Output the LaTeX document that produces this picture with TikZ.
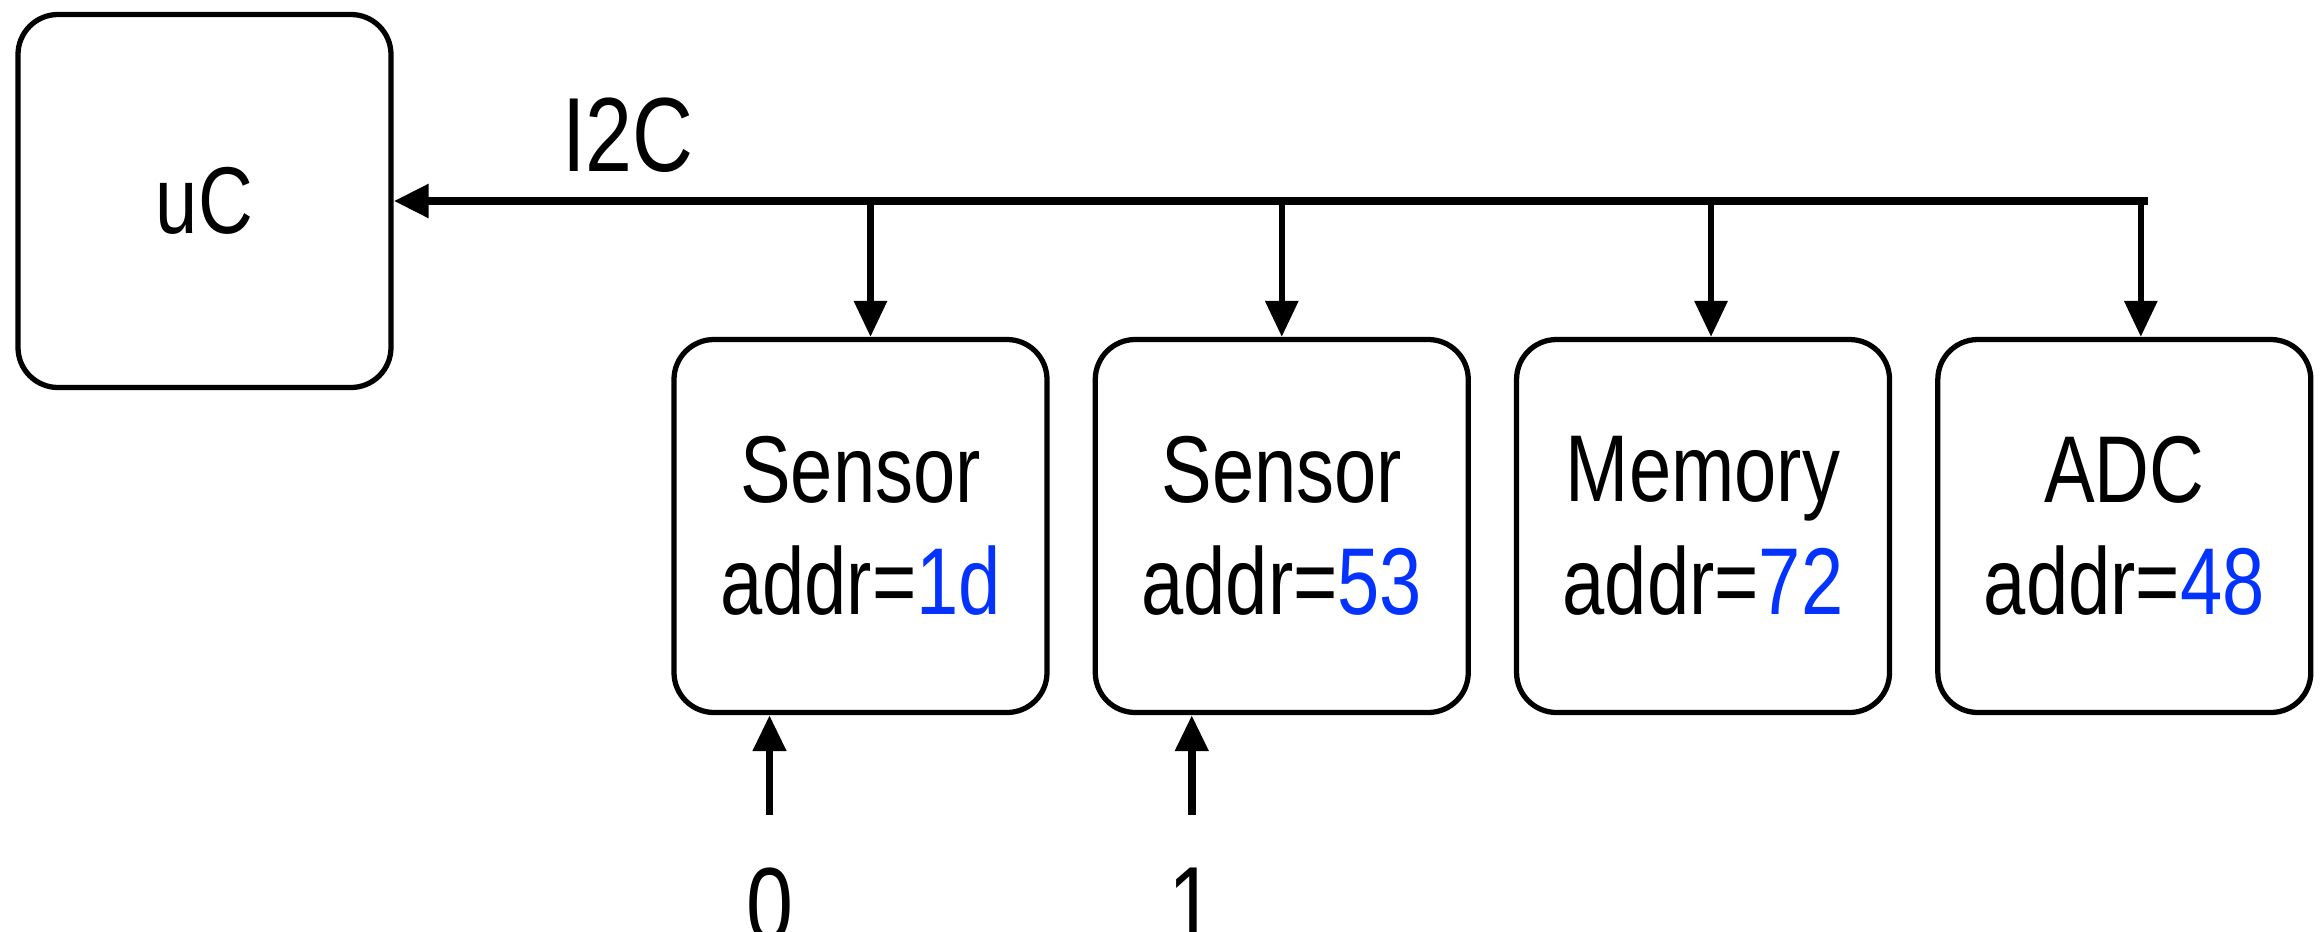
\documentclass[tikz,border=0pt]{standalone}
\usepackage{fontspec}
\setmainfont{Liberation Sans}[FakeStretch=0.8]
\usepackage{xcolor}
\usetikzlibrary{positioning,arrows.meta}
\definecolor{addrblue}{RGB}{4,51,255}

\begin{document}
\begin{tikzpicture}[
    chip/.style={draw, line width=1.5pt, rounded corners=0.4cm, minimum width=3.73cm, minimum height=3.73cm, align=center, font=\fontsize{27}{32}\selectfont},
    tap/.style={line width=1.8pt, -{Triangle[length=3.6mm,width=3.2mm]}},
    lbl/.style={inner sep=0pt, font=\fontsize{30}{36}\selectfont}
]
    \useasboundingbox (0,0) rectangle (23.23,9.31);

    % Microcontroller
    \node[chip] (uC) at (2.045,7.30) {uC};

    % Devices on the bus
    \node[chip] (sensA) at (8.605,4.05) {Sensor\\addr=\textcolor{addrblue}{1d}};
    \node[chip, right=0.43cm of sensA] (sensB) {Sensor\\addr=\textcolor{addrblue}{53}};
    \node[chip, right=0.43cm of sensB] (mem) {Memory\\addr=\textcolor{addrblue}{72}};
    \node[chip, right=0.43cm of mem] (adc) {ADC\\addr=\textcolor{addrblue}{48}};

    % Bus
    \coordinate (busend) at (21.48,7.30);
    \draw[line width=2.4pt, -{Triangle[length=3.5mm,width=3.2mm]}] (busend) -- (uC.east);
    \node[lbl] (busname) at (6.28,7.96) {I2C};
    \draw[tap] ([xshift=1mm]sensA.north |- busend) -- ([xshift=1mm]sensA.north);
    \draw[tap] (sensB.north |- busend) -- (sensB.north);
    \draw[tap] ([xshift=0.8mm]mem.north |- busend) -- ([xshift=0.8mm]mem.north);
    \draw[tap] ([xshift=1.65mm]adc.north |- busend) -- ([xshift=1.65mm]adc.north);

    % Address select pins
    \coordinate (inA) at ([xshift=-9.1mm]sensA.south |- 0,1.16);
    \coordinate (inB) at ([xshift=-9mm]sensB.south |- 0,1.16);
    \draw[tap, line width=2.2pt] (inA) -- (inA |- sensA.south);
    \draw[tap, line width=2.2pt] (inB) -- (inB |- sensB.south);
    \node[lbl, below=0.52cm of inA] (selA) {0};
    \node[lbl, below=0.52cm of inB] (selB) {1};
\end{tikzpicture}
\end{document}
